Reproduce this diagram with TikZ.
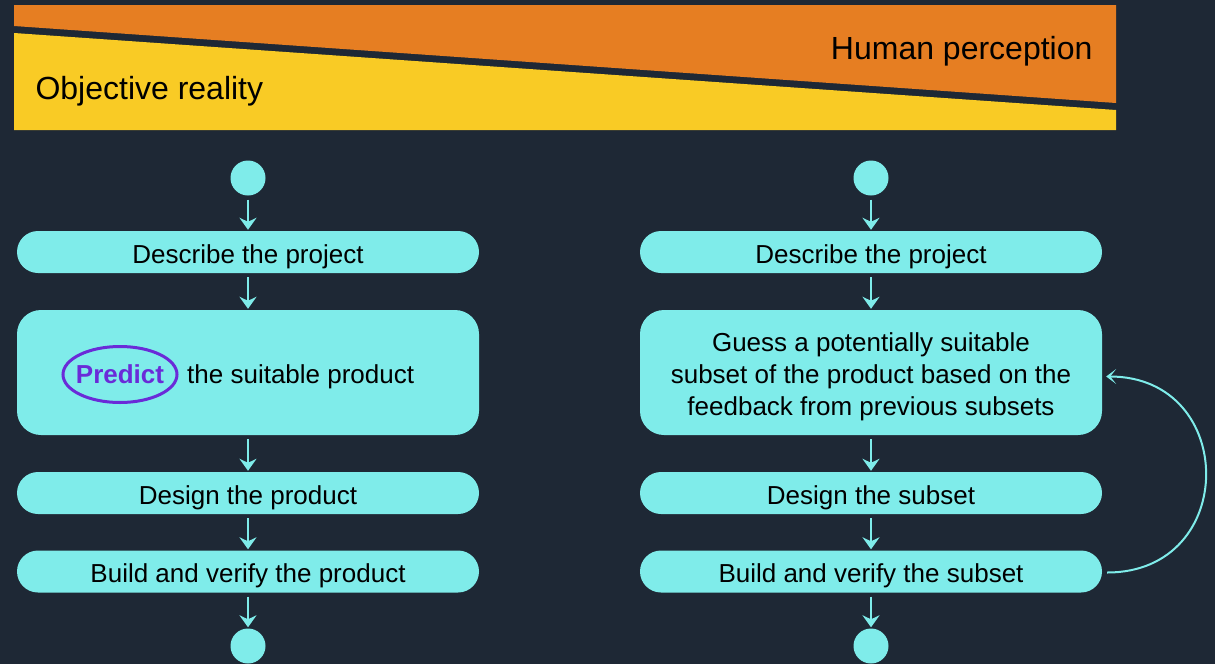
\documentclass[tikz,border=0pt]{standalone}
\usepackage{fontspec}
\setmainfont{Liberation Sans}
\usepackage{tikz}
\usetikzlibrary{positioning,arrows.meta,shapes.geometric}
\definecolor{colBackground}{HTML}{1E2835}
\definecolor{colPerception}{HTML}{E67E22}
\definecolor{colReality}{HTML}{F9CB25}
\definecolor{colStep}{HTML}{7FECEA}
\definecolor{colPredict}{HTML}{6A2BD8}

\begin{document}
\begin{tikzpicture}[x=1pt, y=-1pt,
    font=\fontsize{26}{32}\selectfont,
    stepbox/.style={fill=colStep, rounded corners=21pt, minimum width=462pt, minimum height=42pt, inner sep=0pt,
        align=center, text height=24pt, text depth=2pt},
    startdot/.style={circle, fill=colStep, minimum size=35pt, inner sep=0pt},
    flow/.style={draw=colStep, line width=2pt, -{Stealth[length=12pt, width=17pt, inset=4pt]}, shorten <=4pt, shorten >=1pt}]
    % Fondo
    \fill[colBackground] (0,0) rectangle (1215,664);
    \useasboundingbox (0,0) rectangle (1215,664);

    % Banda superior
    \fill[colPerception] (14,5) -- (1116,5) -- (1116,103) -- (14,26) -- cycle;
    \fill[colReality] (14,33) -- (1116,110) -- (1116,130) -- (14,130) -- cycle;
    \node[anchor=base east, font=\fontsize{32}{36}\selectfont] (perception) at (1096,59) {Human perception};
    \node[anchor=base west, font=\fontsize{32}{36}\selectfont] (reality) at (32,99) {Objective reality};

    % Columna izquierda
    \node[startdot] (start1) at (248,178) {};
    \node[stepbox] (desc1) at (248,252) {Describe the project};
    \node[stepbox, minimum height=125pt, rounded corners=24pt] (pred1) at (248,372.5) {};
    \node[text=colPredict, inner sep=0pt, font=\fontsize{26}{32}\selectfont\bfseries] (predict) at (120,374.5) {Predict};
    \draw[colPredict, line width=3pt] (120,374.5) ellipse [x radius=57, y radius=28];
    \node[anchor=west, inner sep=0pt] (suit1) at (187,377) {the suitable product};
    \node[stepbox] (design1) at (248,493) {Design the product};
    \node[stepbox] (build1) at (248,571.5) {Build and verify the product};
    \node[startdot] (end1) at (248,646) {};

    \draw[flow] (start1) -- (desc1);
    \draw[flow] (desc1) -- (pred1);
    \draw[flow] (pred1) -- (design1);
    \draw[flow] (design1) -- (build1);
    \draw[flow] (build1) -- (end1);

    % Columna derecha
    \node[startdot] (start2) at (871,178) {};
    \node[stepbox] (desc2) at (871,252) {Describe the project};
    \node[stepbox, minimum height=125pt, rounded corners=24pt, text height=88pt, text depth=3pt] (guess2) at (871,372.5)
        {Guess a potentially suitable\\ subset of the product based on the\\ feedback from previous subsets};
    \node[stepbox] (design2) at (871,493) {Design the subset};
    \node[stepbox] (build2) at (871,571.5) {Build and verify the subset};
    \node[startdot] (end2) at (871,646) {};

    \draw[flow] (start2) -- (desc2);
    \draw[flow] (desc2) -- (guess2);
    \draw[flow] (guess2) -- (design2);
    \draw[flow] (design2) -- (build2);
    \draw[flow] (build2) -- (end2);

    % Retroalimentacion
    \draw[draw=colStep, line width=2pt, -{Stealth[length=10pt, width=15pt, inset=6pt]}]
        ([xshift=5pt, yshift=-1pt]build2.east) .. controls +(132,0) and +(132,0) .. ([xshift=4pt, yshift=-4pt]guess2.east);
\end{tikzpicture}
\end{document}
